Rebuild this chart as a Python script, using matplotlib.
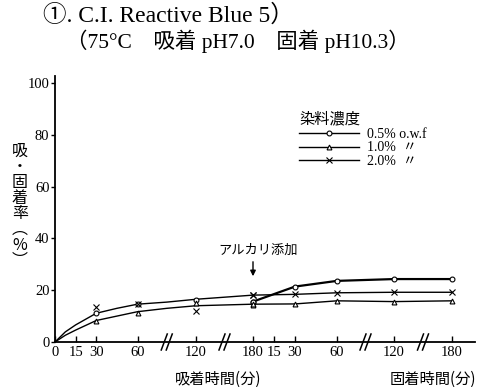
import numpy as np
import matplotlib
matplotlib.use("Agg")
import matplotlib.pyplot as plt
from matplotlib.lines import Line2D

# ---------------- data ----------------
# adsorption phase: smooth fitted curves
curve_t = [0, 7.5, 15, 30, 45, 60, 90, 120, 150, 180]
upper_curve = [0, 3.9, 6.6, 11.1, 13.0, 14.6, 15.4, 16.5, 17.3, 18.1]
lower_curve = [0, 2.6, 4.6, 8.3, 10.0, 11.7, 13.0, 14.0, 14.3, 14.6]

# adsorption phase markers
ads_t = [30, 60, 120, 180]
ads_05 = [11.1, 14.6, 16.2, 15.6]
ads_10 = [8.2, 11.3, 14.9, 14.3]
ads_20 = [13.4, 14.6, 12.0, 18.1]

# fixation phase (time after alkali addition)
fix_t = [0, 30, 60, 120, 180]
fix_05 = [15.6, 21.4, 23.6, 24.3, 24.3]
fix_10 = [14.6, 14.7, 15.9, 15.6, 15.9]
fix_20 = [18.1, 18.4, 19.0, 19.2, 19.2]

ads_ticks = [0, 15, 30, 60, 120, 180]
fix_ticks = [15, 30, 60, 120, 180]
y_ticks = [0, 20, 40, 60, 80, 100]

series_labels = ["0.5% o.w.f", "1.0%  〃", "2.0%  〃"]

# broken time axis (knots of the compressed scale)
knot_t = [0, 60, 120, 180]
ads_knot_x = [0, 82.5, 141, 198]
fix_knot_x = [198, 282, 339, 397]


def ads_x(t):
    return np.interp(t, knot_t, ads_knot_x)


def fix_x(t):
    return np.interp(t, knot_t, fix_knot_x)


SERIF = ["Liberation Serif", "Noto Sans CJK JP"]
CJK = ["Noto Sans CJK JP", "Liberation Serif"]

W, H = 489, 387
fig = plt.figure(figsize=(W / 100, H / 100), dpi=100)
ppu = 2.59  # pixels per % unit
ax = fig.add_axes([55 / W, 45 / H, 420 / W, 266 / H])
ax.set_xlim(0, 420)
ax.set_ylim(0, 266 / ppu)

for s in ["top", "right"]:
    ax.spines[s].set_visible(False)
for s in ["left", "bottom"]:
    ax.spines[s].set_linewidth(1.3)

k = "black"
# adsorption curves
ax.plot(ads_x(curve_t), upper_curve, color=k, lw=1.0)
ax.plot(ads_x(curve_t), lower_curve, color=k, lw=1.0)

mk = dict(color=k, ls="none", markerfacecolor="white", markeredgewidth=0.8)
ax.plot(ads_x(ads_t), ads_05, marker="o", ms=3.5, **mk)
ax.plot(ads_x(ads_t), ads_10, marker="^", ms=3.5, **mk)
ax.plot(ads_x(ads_t), ads_20, marker="x", ms=4, **mk)

# fixation lines
ax.plot(fix_x(fix_t), fix_05, color=k, lw=1.6, marker="o", ms=3.5,
        markerfacecolor="white", markeredgewidth=0.8)
ax.plot(fix_x(fix_t), fix_10, color=k, lw=1.0, marker="^", ms=3.5,
        markerfacecolor="white", markeredgewidth=0.8)
ax.plot(fix_x(fix_t), fix_20, color=k, lw=1.0, marker="x", ms=4,
        markeredgewidth=0.8)

# ticks
xt = list(ads_x(ads_ticks)) + list(fix_x(fix_ticks))
xl = [str(t) for t in ads_ticks] + [str(t) for t in fix_ticks]
ax.set_xticks(xt)
ax.set_xticklabels(xl, family=SERIF, fontsize=10.5)
ax.tick_params(axis="x", direction="in", length=4, width=1, pad=3)
ax.set_yticks(y_ticks)
ax.set_yticklabels([str(v) for v in y_ticks], family=SERIF, fontsize=10.5)
ax.tick_params(axis="y", direction="out", length=3, width=1, pad=1)

# axis break marks
for xb in [ads_x(90), ads_x(150), fix_x(90), fix_x(150)]:
    for dx in (-2.5, 2.5):
        ax.plot([xb + dx - 3, xb + dx + 3], [-8 / ppu, 8 / ppu], color=k,
                lw=1.1, clip_on=False)

# legend
handles = [
    Line2D([], [], color=k, lw=1.0, marker="o", ms=3.5, markerfacecolor="white", markeredgewidth=0.8),
    Line2D([], [], color=k, lw=1.0, marker="^", ms=3.5, markerfacecolor="white", markeredgewidth=0.8),
    Line2D([], [], color=k, lw=1.0, marker="x", ms=4, markeredgewidth=0.8),
]
leg = ax.legend(handles, series_labels, title="染料濃度", loc="upper left",
                bbox_to_anchor=(299 / W, 1 - 110 / H), bbox_transform=fig.transFigure,
                frameon=False, handlelength=4.3, handletextpad=0.6, labelspacing=0.05,
                borderpad=0, borderaxespad=0, numpoints=1, alignment="left",
                prop=dict(family=SERIF, size=10),
                title_fontproperties=dict(family=CJK, size=11))

# alkali annotation
xa = fix_x(0)
ax.annotate("", xy=(xa, (342 - 279) / ppu), xytext=(xa, (342 - 259) / ppu),
            arrowprops=dict(arrowstyle="-|>", color=k, lw=1.0, mutation_scale=8))
fig.text(258 / W, 1 - 250 / H, "アルカリ添加", family=CJK, fontsize=9.5,
         ha="center", va="center")

# titles
fig.text(43 / W, 1 - 16 / H, "①. C.I. Reactive Blue 5）", family=SERIF,
         fontsize=17, ha="left", va="center")
fig.text(66 / W, 1 - 41 / H, "（75°C　吸着 pH7.0　固着 pH10.3）", family=SERIF,
         fontsize=15.5, ha="left", va="center")

# vertical y label
ylab = "\n".join(["吸", "・", "固", "着", "率", "︵", "%", "︶"])
fig.text(20 / W, 1 - 206 / H, ylab, family=CJK, fontsize=11.5,
         ha="center", va="center", linespacing=0.9)

fig.text(218 / W, 1 - 379 / H, "吸着時間(分)", family=CJK, fontsize=11,
         ha="center", va="center")
fig.text(433 / W, 1 - 379 / H, "固着時間(分)", family=CJK, fontsize=11,
         ha="center", va="center")

fig.savefig("out.png", dpi=100)
